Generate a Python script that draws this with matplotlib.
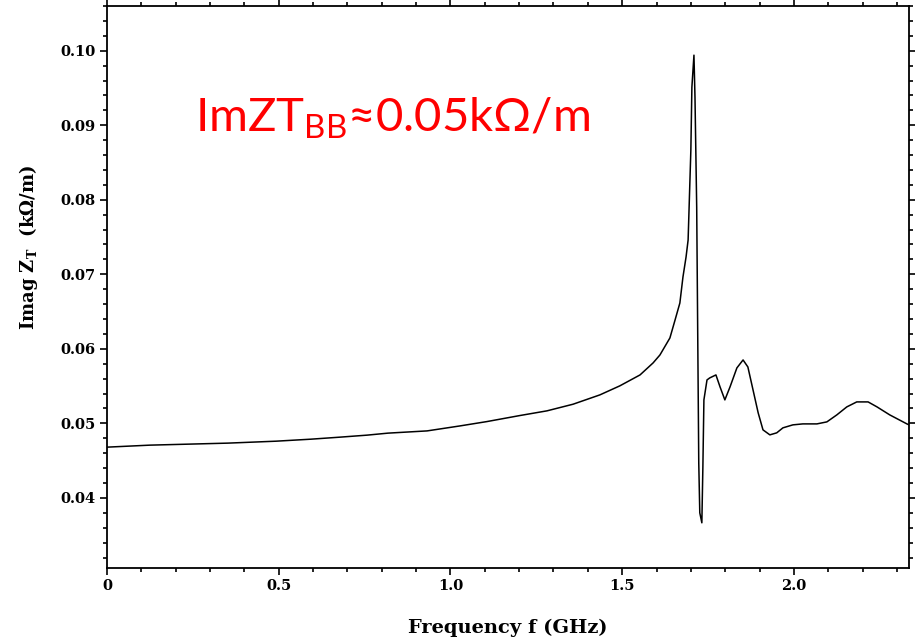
import numpy as np
import matplotlib
matplotlib.use("Agg")
import matplotlib.pyplot as plt
from matplotlib.ticker import MultipleLocator, FixedLocator, FixedFormatter

plt.rcParams['mathtext.fontset'] = 'custom'
plt.rcParams['mathtext.rm'] = 'Lato'
plt.rcParams['mathtext.bf'] = 'DejaVu Serif:bold'

# Imag Z_T vs frequency
freq_ghz = [0.0, 0.125, 0.352, 0.492, 0.594, 0.678, 0.757, 0.818, 0.932, 1.028,
            1.106, 1.202, 1.281, 1.357, 1.435, 1.493, 1.552, 1.590, 1.610, 1.639,
            1.654, 1.668, 1.677, 1.686, 1.692, 1.700, 1.703, 1.709, 1.712, 1.717,
            1.723, 1.726, 1.732, 1.735, 1.738, 1.747, 1.755, 1.773, 1.785, 1.799,
            1.814, 1.834, 1.852, 1.866, 1.881, 1.896, 1.910, 1.930, 1.950, 1.968,
            1.997, 2.026, 2.067, 2.096, 2.125, 2.154, 2.183, 2.216, 2.242, 2.279,
            2.329, 2.340]
imag_zt = [0.04681, 0.04708, 0.04735, 0.04761, 0.04788, 0.04815, 0.04842, 0.04869, 0.04899, 0.04966,
           0.05024, 0.05105, 0.05168, 0.05257, 0.05382, 0.05503, 0.05650, 0.05811, 0.05918, 0.06146,
           0.06387, 0.06615, 0.06964, 0.07232, 0.07460, 0.08666, 0.09510, 0.09940, 0.09377, 0.07902,
           0.04470, 0.03800, 0.03666, 0.04417, 0.05315, 0.05583, 0.05610, 0.05650, 0.05489, 0.05315,
           0.05489, 0.05744, 0.05851, 0.05757, 0.05449, 0.05141, 0.04913, 0.04846, 0.04873, 0.04940,
           0.04980, 0.04993, 0.04993, 0.05020, 0.05114, 0.05221, 0.05288, 0.05288, 0.05221, 0.05114,
           0.04993, 0.04970]

x_ticks = [0.0, 0.5, 1.0, 1.5, 2.0]
x_tick_labels = ['0', '0.5', '1.0', '1.5', '2.0']
y_ticks = [0.04, 0.05, 0.06, 0.07, 0.08, 0.09, 0.10]
y_tick_labels = ['0.04', '0.05', '0.06', '0.07', '0.08', '0.09', '0.10']

fig = plt.figure(figsize=(9.15, 6.42), dpi=100)
ax = fig.add_axes([0.1169, 0.1153, 0.8765, 0.8754])

ax.plot(freq_ghz, imag_zt, color='black', lw=1.1)

ax.set_xlim(0, 2.335)
ax.set_ylim(0.0306, 0.1060)

ax.xaxis.set_major_locator(FixedLocator(x_ticks))
ax.xaxis.set_major_formatter(FixedFormatter(x_tick_labels))
ax.xaxis.set_minor_locator(MultipleLocator(0.1))
ax.yaxis.set_major_locator(FixedLocator(y_ticks))
ax.yaxis.set_major_formatter(FixedFormatter(y_tick_labels))
ax.yaxis.set_minor_locator(MultipleLocator(0.002))

ax.tick_params(which='both', direction='out', top=True, right=True, width=1.2)
ax.tick_params(which='major', length=5, labelsize=10.5, pad=3)
ax.tick_params(which='minor', length=3)
for lab in ax.get_xticklabels() + ax.get_yticklabels():
    lab.set_family('DejaVu Serif')
    lab.set_fontweight('bold')
for sp in ax.spines.values():
    sp.set_linewidth(1.3)

ax.set_xlabel('Frequency f (GHz)', family='DejaVu Serif', fontweight='bold',
              fontsize=14)
ax.xaxis.set_label_coords(0.5, -0.09)
ax.set_ylabel(r'Imag $\mathbf{Z_T}$  (kΩ/m)', family='DejaVu Serif', fontweight='bold',
              fontsize=13)
ax.yaxis.set_label_coords(-0.083, 0.57)

ax.text(0.256, 0.0891, r'ImZT$_{\mathrm{BB}}$≈0.05kΩ/m', color='red',
        family=['Lato', 'DejaVu Sans'], fontsize=34, ha='left', va='baseline')

fig.savefig('out.png', dpi=100)
